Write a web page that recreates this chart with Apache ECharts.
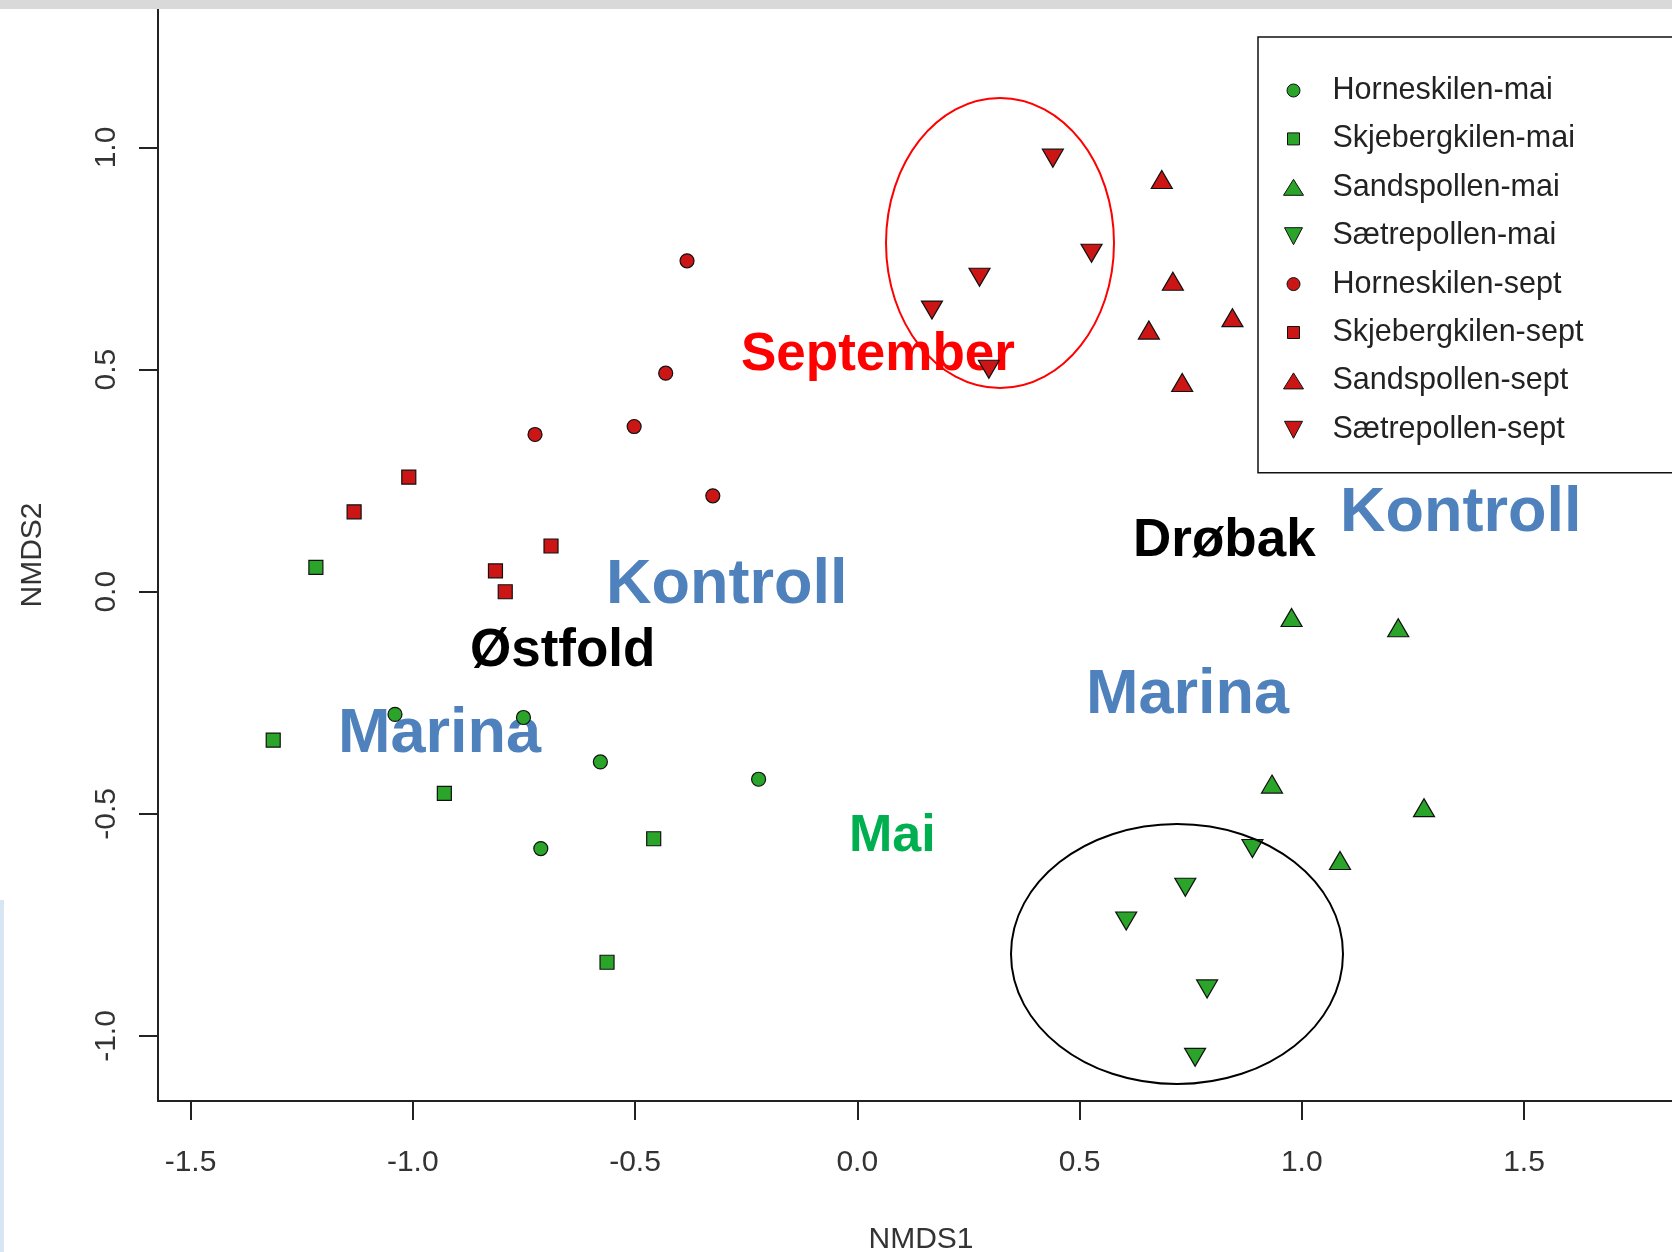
<!DOCTYPE html>
<html>
<head>
<meta charset="utf-8">
<script src="https://cdn.jsdelivr.net/npm/echarts@6/dist/echarts.min.js"></script>
<style>
html,body{margin:0;padding:0;background:#ffffff;}
#chart{width:1672px;height:1252px;}
</style>
</head>
<body>
<div id="chart"></div>
<script>
// ---------- data ----------
const xTicks = [-1.5, -1.0, -0.5, 0.0, 0.5, 1.0, 1.5];
const yTicks = [-1.0, -0.5, 0.0, 0.5, 1.0];

const seriesNames = [
  'Horneskilen-mai', 'Skjebergkilen-mai', 'Sandspollen-mai', 'Sætrepollen-mai',
  'Horneskilen-sept', 'Skjebergkilen-sept', 'Sandspollen-sept', 'Sætrepollen-sept'
];

const horneskilenMai    = [[-1.040, -0.276], [-0.751, -0.283], [-0.578, -0.383], [-0.222, -0.422], [-0.712, -0.578]];
const skjebergkilenMai  = [[-1.218, 0.055], [-1.314, -0.334], [-0.929, -0.454], [-0.458, -0.556], [-0.563, -0.834]];
const sandspollenMai    = [[0.977, -0.058], [1.217, -0.081], [0.933, -0.433], [1.275, -0.486], [1.086, -0.605]];
const saetrepollenMai   = [[0.889, -0.578], [0.738, -0.665], [0.605, -0.741], [0.787, -0.894], [0.760, -1.048]];
const horneskilenSept   = [[-0.383, 0.745], [-0.431, 0.492], [-0.502, 0.372], [-0.725, 0.354], [-0.325, 0.216]];
const skjebergkilenSept = [[-1.009, 0.258], [-1.132, 0.180], [-0.689, 0.103], [-0.814, 0.047], [-0.792, 0.000]];
const sandspollenSept   = [[0.685, 0.928], [0.710, 0.699], [0.844, 0.617], [0.656, 0.589], [0.731, 0.471]];
const saetrepollenSept  = [[0.440, 0.976], [0.527, 0.762], [0.275, 0.708], [0.168, 0.634], [0.296, 0.501]];

const annotationTexts = ['September', 'Kontroll', 'Kontroll', 'Marina', 'Marina', 'Østfold', 'Drøbak', 'Mai'];

// ---------- styling ----------
const groups = [horneskilenMai, skjebergkilenMai, sandspollenMai, saetrepollenMai,
                horneskilenSept, skjebergkilenSept, sandspollenSept, saetrepollenSept];
const GREEN = '#2aa52a', RED = '#cc1515';
const shapeKinds = ['circle', 'square', 'up', 'down', 'circle', 'square', 'up', 'down'];
const fills = [GREEN, GREEN, GREEN, GREEN, RED, RED, RED, RED];
const FONT = '"Liberation Sans", Arial, Helvetica, sans-serif';

const symbolFor = {
  circle: {symbol: 'circle', size: 14, rotate: 0},
  square: {symbol: 'rect', size: 14, rotate: 0},
  up:     {symbol: 'triangle', size: [21, 18], rotate: 0},
  down:   {symbol: 'triangle', size: [21, 18], rotate: 180}
};
// legend icons inside a 22x22 box (corner move-tos fix the box size)
const legendIconFor = {
  circle: 'path://M0 0M22 22M17.5 11A6.5 6.5 0 1 1 4.5 11A6.5 6.5 0 1 1 17.5 11Z',
  square: 'path://M0 0M22 22M5 5L17 5L17 17L5 17Z',
  up:     'path://M0 0M22 22M1 19L11 3L21 19Z',
  down:   'path://M0 0M22 22M2 3L20 3L11 20Z'
};

const series = groups.map((g, i) => {
  const s = symbolFor[shapeKinds[i]];
  return {
    name: seriesNames[i],
    type: 'scatter',
    data: g,
    symbol: s.symbol,
    symbolSize: s.size,
    symbolRotate: s.rotate,
    itemStyle: {color: fills[i], borderColor: '#111', borderWidth: 1.2, opacity: 1},
    emphasis: {disabled: true},
    z: 3
  };
});

const annPos = [
  {x: 741,  y: 355, size: 53, color: '#ff0000'},
  {x: 606,  y: 586, size: 63, color: '#4f81bd'},
  {x: 1340, y: 514, size: 63, color: '#4f81bd'},
  {x: 338,  y: 735, size: 63, color: '#4f81bd'},
  {x: 1086, y: 696, size: 63, color: '#4f81bd'},
  {x: 470,  y: 651, size: 53, color: '#000000'},
  {x: 1133, y: 541, size: 53, color: '#000000'},
  {x: 849,  y: 837, size: 52, color: '#00b050'}
];

const graphics = annotationTexts.map((t, i) => ({
  type: 'text',
  x: annPos[i].x, y: annPos[i].y, z: 1,
  style: {
    text: t,
    font: 'bold ' + annPos[i].size + 'px ' + FONT,
    fill: annPos[i].color,
    align: 'left', verticalAlign: 'middle',
    textAlign: 'left', textVerticalAlign: 'middle'
  }
}));
graphics.push(
  {type: 'ellipse', z: 5, shape: {cx: 1000, cy: 243, rx: 114, ry: 145},
   style: {fill: 'none', stroke: '#ff0000', lineWidth: 2}},
  {type: 'ellipse', z: 5, shape: {cx: 1177, cy: 954, rx: 166, ry: 130},
   style: {fill: 'none', stroke: '#000000', lineWidth: 2}},
  {type: 'rect', z: 20, shape: {x: 0, y: 0, width: 1672, height: 9},
   style: {fill: '#d9d9d9'}},
  {type: 'rect', z: 20, shape: {x: 0, y: 900, width: 4, height: 352},
   style: {fill: '#d8e6f4'}}
);

const axisText = {fontFamily: FONT, fontSize: 30, color: '#333'};

const option = {
  backgroundColor: '#ffffff',
  animation: false,
  grid: {left: 158, top: 9, width: 1526, height: 1092, containLabel: false, outerBoundsMode: 'none'},
  xAxis: {
    type: 'value', min: -1.5732, max: 1.8599, position: 'bottom',
    axisLine: {show: true, onZero: false, lineStyle: {color: '#222', width: 2}},
    axisTick: {show: true, length: 19, customValues: xTicks, lineStyle: {color: '#222', width: 2}},
    axisLabel: Object.assign({customValues: xTicks, margin: 47,
      formatter: v => Number(v).toFixed(1)}, axisText),
    splitLine: {show: false},
    name: 'NMDS1', nameLocation: 'middle', nameGap: 124, nameTextStyle: axisText
  },
  yAxis: {
    type: 'value', min: -1.1463, max: 1.3118, position: 'left',
    axisLine: {show: true, onZero: false, lineStyle: {color: '#222', width: 2}},
    axisTick: {show: true, length: 19, customValues: yTicks, lineStyle: {color: '#222', width: 2}},
    axisLabel: Object.assign({customValues: yTicks, margin: 36, rotate: 90,
      formatter: v => Number(v).toFixed(1)}, axisText),
    splitLine: {show: false},
    name: 'NMDS2', nameLocation: 'middle', nameGap: 110, nameRotate: 90, nameTextStyle: axisText
  },
  legend: {
    orient: 'vertical', left: 1258, top: 37,
    padding: [38, 120, 28, 24],
    itemWidth: 68, itemHeight: 22, itemGap: 17.4,
    borderColor: '#111', borderWidth: 1.5, backgroundColor: '#ffffff',
    selectedMode: false,
    textStyle: {fontFamily: FONT, fontSize: 30.5, color: '#222', lineHeight: 30},
    itemStyle: {borderColor: '#111', borderWidth: 1},
    data: seriesNames.map((n, i) => ({name: n, icon: legendIconFor[shapeKinds[i]]}))
  },
  graphic: {elements: graphics},
  series: series
};

const chart = echarts.init(document.getElementById('chart'), null, {renderer: 'canvas'});
chart.setOption(option);
</script>
</body>
</html>
